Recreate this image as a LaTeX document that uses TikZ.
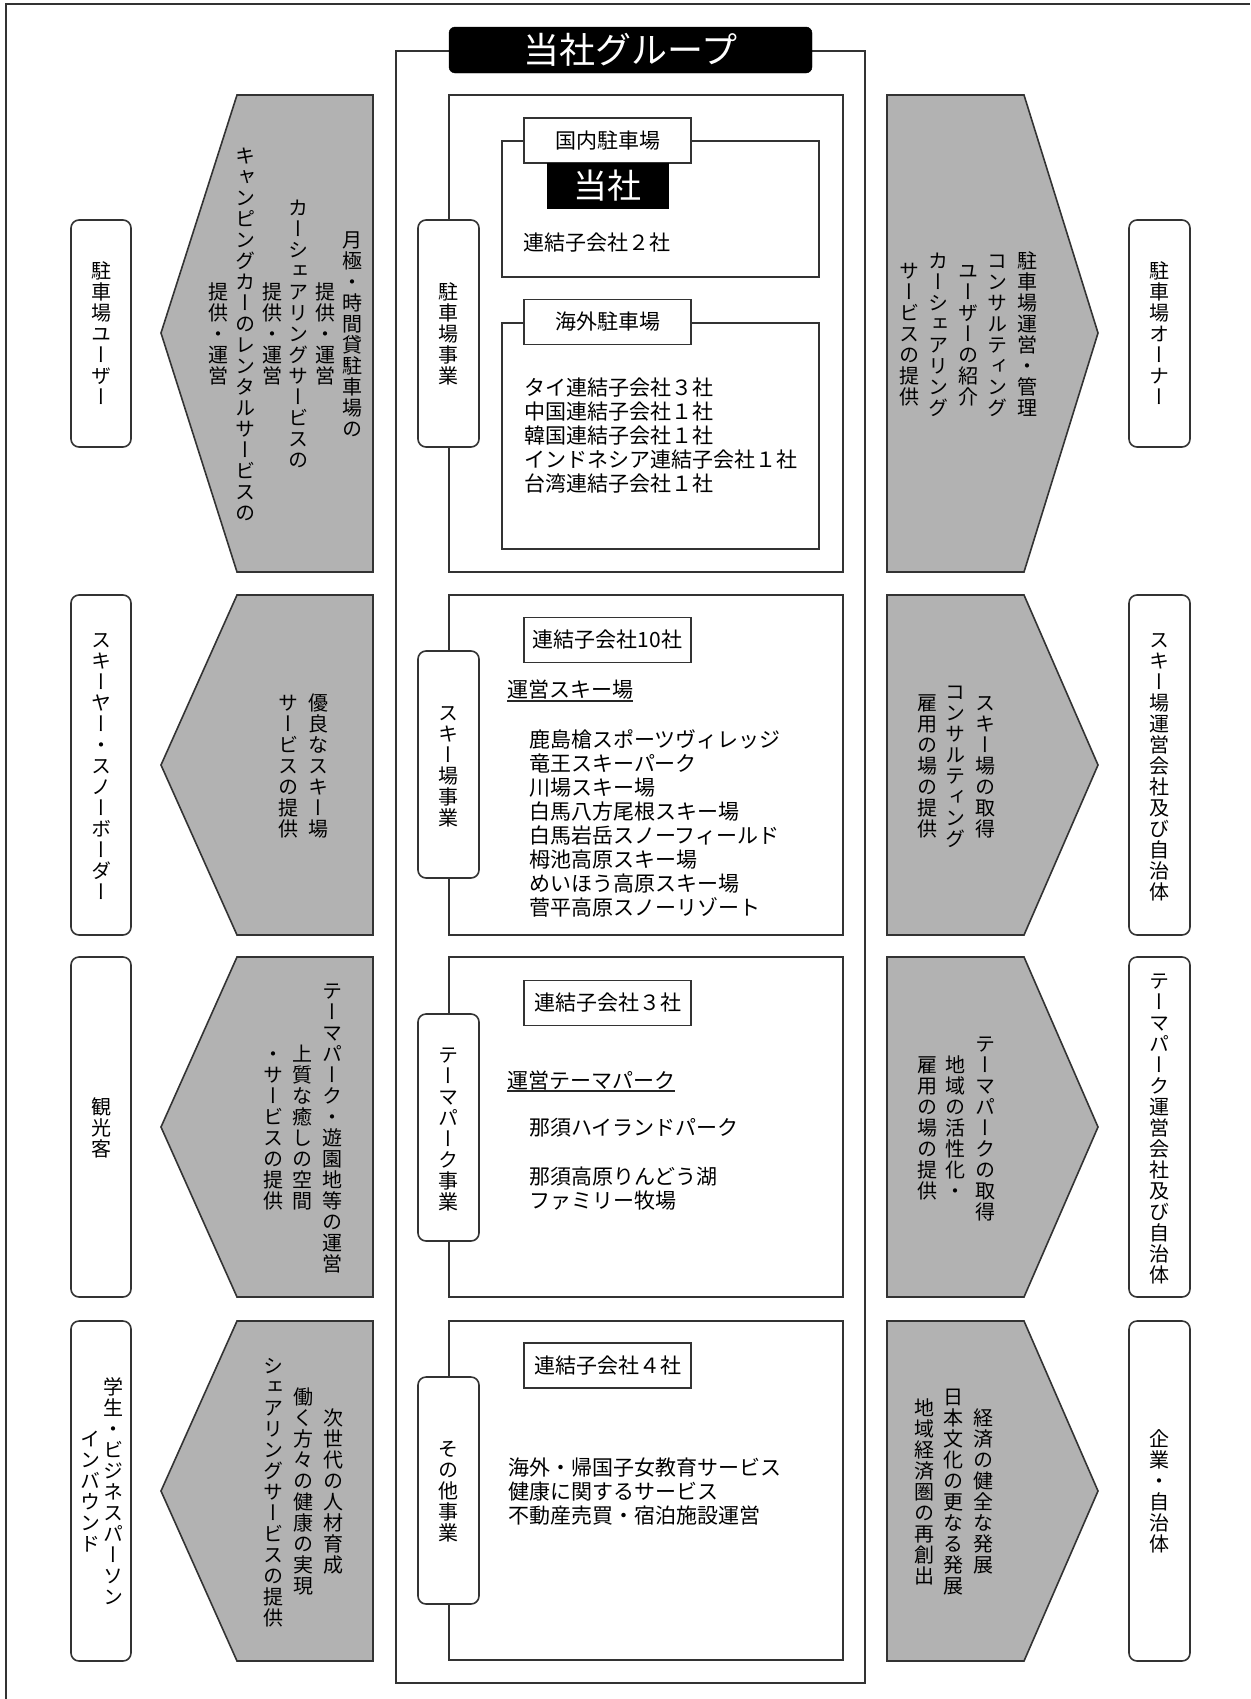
\documentclass[tikz,border=0pt]{standalone}
\usepackage{fontspec}
\setmainfont{Noto Sans CJK JP}
\newfontfamily\jpv[RawFeature=+vert]{Noto Sans CJK JP}
\usetikzlibrary{calc}
\newcommand\vch[1]{\hbox to 21bp{\vrule width 0pt height 18.5bp depth 2.5bp\hss#1\hss}}
\ExplSyntaxOn
\NewDocumentCommand\vcol{m}{\vbox{\offinterlineskip\jpv\fontsize{20bp}{21bp}\selectfont\tl_map_inline:nn{#1}{\vch{##1}}}}
\ExplSyntaxOff
\begin{document}
\begin{tikzpicture}[x=1bp,y=-1bp,
  ln/.style={draw=black!80,line width=1.6bp},
  panel/.style={ln,fill=white},
  rbox/.style={ln,fill=white,rounded corners=8bp},
  arr/.style={ln,fill=black!30,line join=miter},
  vt/.style={inner sep=0pt,anchor=center},
  ht/.style={inner sep=0pt,anchor=west,align=left,font=\fontsize{21bp}{24bp}\selectfont},
  lbl/.style={ln,fill=white,inner sep=0pt,minimum width=167bp,minimum height=45bp,font=\fontsize{21bp}{24bp}\selectfont},
  ul/.style={draw=black!85,line width=1.3bp}]
\useasboundingbox (0,0) rectangle (1250,1699);
\fill[white] (0,0) rectangle (1250,1699);
% outer frame (top and left only)
\draw[ln] (6,1699) -- (6,4) -- (1250,4);
% central group frame
\draw[ln] (396,51) rectangle (865,1683);
\node[fill=black,draw=black,rounded corners=6bp,minimum width=363bp,minimum height=46bp,inner sep=0pt,text=white,font=\fontsize{36bp}{40bp}\selectfont] (title) at (630.5,50) {当社グループ};

% ===== Row 1 =====
\draw[panel] (449,95) rectangle (843,572);
\draw[ln] (502,141) rectangle (819,277);
\node[lbl] (dom) at (607.5,140.5) {国内駐車場};
\node[fill=black,draw=black,minimum width=121bp,minimum height=45bp,inner sep=0pt,text=white,font=\fontsize{34bp}{38bp}\selectfont] (tosha) at (607.5,185.5) {当社};
\node[ht] (dom2) at (523,243) {連結子会社２社};
\draw[ln] (502,323) rectangle (819,549);
\node[lbl] (ovs) at (607.5,322) {海外駐車場};
\node[ht] (ovslist) at (524,436) {タイ連結子会社３社\\中国連結子会社１社\\韓国連結子会社１社\\インドネシア連結子会社１社\\台湾連結子会社１社};
\draw[rbox] (418,220) rectangle (479,447);
\node[vt] (m1) at (448.5,333.5) {\vcol{駐車場事業}};
\draw[arr] (373,95) -- (237,95) -- (161,333) -- (237,572) -- (373,572) -- cycle;
\draw[arr] (887,95) -- (1024,95) -- (1098,333) -- (1024,572) -- (887,572) -- cycle;
\draw[rbox] (71,220) rectangle (131,447);
\draw[rbox] (1129,220) rectangle (1190,447);
\node[vt] (l1) at (101,333.5) {\vcol{駐車場ユーザー}};
\node[vt] (r1) at (1159.5,333.5) {\vcol{駐車場オーナー}};
\node[vt] (l1a) at (352,333.5) {\vcol{月極・時間貸駐車場の}};
\node[vt] (l1b) at (325,333.5) {\vcol{提供・運営}};
\node[vt] (l1c) at (298,333.5) {\vcol{カーシェアリングサービスの}};
\node[vt] (l1d) at (272,333.5) {\vcol{提供・運営}};
\node[vt] (l1e) at (245,333.5) {\vcol{キャンピングカーのレンタルサービスの}};
\node[vt] (l1f) at (218,333.5) {\vcol{提供・運営}};
\node[vt] (r1a) at (1027,333.5) {\vcol{駐車場運営・管理}};
\node[vt] (r1b) at (997,333.5) {\vcol{コンサルティング}};
\node[vt] (r1c) at (968,333.5) {\vcol{ユーザーの紹介}};
\node[vt] (r1d) at (938,333.5) {\vcol{カーシェアリング}};
\node[vt] (r1e) at (909,333.5) {\vcol{サービスの提供}};

% ===== Row 2 =====
\draw[panel] (449,595) rectangle (843,935);
\node[lbl] (sk0) at (607.5,640) {連結子会社10社};
\node[ht] (sk1) at (507,690) {運営スキー場};
\draw[ul] ([yshift=-1bp]sk1.south west) -- ([yshift=-1bp]sk1.south east);
\node[ht] (sk2) at (529,823) {鹿島槍スポーツヴィレッジ\\竜王スキーパーク\\川場スキー場\\白馬八方尾根スキー場\\白馬岩岳スノーフィールド\\栂池高原スキー場\\めいほう高原スキー場\\菅平高原スノーリゾート};
\draw[rbox] (418,651) rectangle (479,878);
\node[vt] (m2) at (448.5,764.5) {\vcol{スキー場事業}};
\draw[arr] (373,595) -- (237,595) -- (161,765) -- (237,935) -- (373,935) -- cycle;
\draw[arr] (887,595) -- (1024,595) -- (1098,765) -- (1024,935) -- (887,935) -- cycle;
\draw[rbox] (71,595) rectangle (131,935);
\draw[rbox] (1129,595) rectangle (1190,935);
\node[vt] (l2) at (101,765) {\vcol{スキーヤー・スノーボーダー}};
\node[vt] (r2) at (1159.5,765) {\vcol{スキー場運営会社及び自治体}};
\node[vt] (l2a) at (318,765) {\vcol{優良なスキー場}};
\node[vt] (l2b) at (288,765) {\vcol{サービスの提供}};
\node[vt] (r2a) at (985,765) {\vcol{スキー場の取得}};
\node[vt] (r2b) at (955,765) {\vcol{コンサルティング}};
\node[vt] (r2c) at (927,765) {\vcol{雇用の場の提供}};

% ===== Row 3 =====
\draw[panel] (449,957) rectangle (843,1297);
\node[lbl] (tp0) at (607.5,1003) {連結子会社３社};
\node[ht] (tp1) at (507,1080) {運営テーマパーク};
\draw[ul] ([yshift=-1bp]tp1.south west) -- ([yshift=-1bp]tp1.south east);
\node[ht] (tp2) at (529,1128) {那須ハイランドパーク};
\node[ht] (tp3) at (529,1188.5) {那須高原りんどう湖\\ファミリー牧場};
\draw[rbox] (418,1014) rectangle (479,1241);
\node[vt] (m3) at (448.5,1127.5) {\vcol{テーマパーク事業}};
\draw[arr] (373,957) -- (237,957) -- (161,1127) -- (237,1297) -- (373,1297) -- cycle;
\draw[arr] (887,957) -- (1024,957) -- (1098,1127) -- (1024,1297) -- (887,1297) -- cycle;
\draw[rbox] (71,957) rectangle (131,1297);
\draw[rbox] (1129,957) rectangle (1190,1297);
\node[vt] (l3) at (101,1127) {\vcol{観光客}};
\node[vt] (r3) at (1159.5,1127) {\vcol{テーマパーク運営会社及び自治体}};
\node[vt] (l3a) at (332,1127) {\vcol{テーマパーク・遊園地等の運営}};
\node[vt] (l3b) at (302,1127) {\vcol{上質な癒しの空間}};
\node[vt] (l3c) at (273,1127) {\vcol{・サービスの提供}};
\node[vt] (r3a) at (985,1127) {\vcol{テーマパークの取得}};
\node[vt] (r3b) at (955,1127) {\vcol{地域の活性化・}};
\node[vt] (r3c) at (927,1127) {\vcol{雇用の場の提供}};

% ===== Row 4 =====
\draw[panel] (449,1321) rectangle (843,1660);
\node[lbl] (ot0) at (607.5,1365.5) {連結子会社４社};
\node[ht] (ot1) at (508,1492) {海外・帰国子女教育サービス\\健康に関するサービス\\不動産売買・宿泊施設運営};
\draw[rbox] (418,1377) rectangle (479,1604);
\node[vt] (m4) at (448.5,1490.5) {\vcol{その他事業}};
\draw[arr] (373,1321) -- (237,1321) -- (161,1491) -- (237,1661) -- (373,1661) -- cycle;
\draw[arr] (887,1321) -- (1024,1321) -- (1098,1491) -- (1024,1661) -- (887,1661) -- cycle;
\draw[rbox] (71,1321) rectangle (131,1661);
\draw[rbox] (1129,1321) rectangle (1190,1661);
\node[vt] (l4a) at (113,1491) {\vcol{学生・ビジネスパーソン}};
\node[vt] (l4b) at (90,1491) {\vcol{インバウンド}};
\node[vt] (r4) at (1159.5,1491) {\vcol{企業・自治体}};
\node[vt] (l4c) at (333,1491) {\vcol{次世代の人材育成}};
\node[vt] (l4d) at (303,1491) {\vcol{働く方々の健康の実現}};
\node[vt] (l4e) at (273,1491) {\vcol{シェアリングサービスの提供}};
\node[vt] (r4a) at (983,1491) {\vcol{経済の健全な発展}};
\node[vt] (r4b) at (953,1491) {\vcol{日本文化の更なる発展}};
\node[vt] (r4c) at (924,1491) {\vcol{地域経済圏の再創出}};
\end{tikzpicture}
\end{document}
